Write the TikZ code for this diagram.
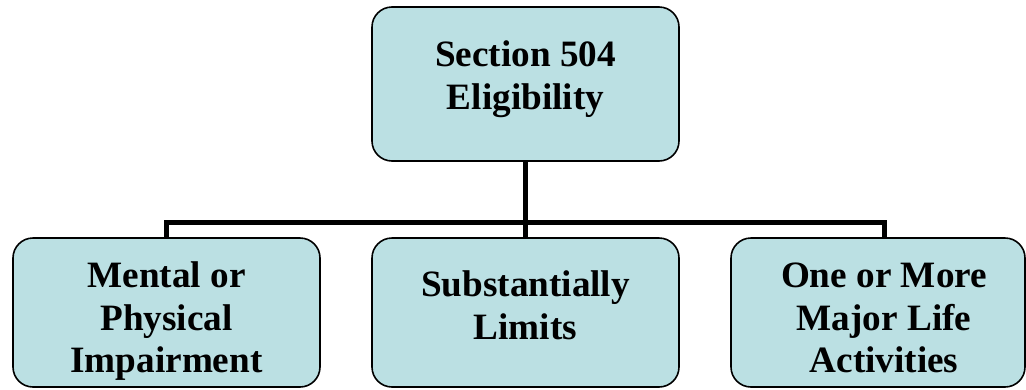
\documentclass[tikz,border=0pt]{standalone}
\usepackage{fontspec}
\setmainfont{Liberation Serif}
\usetikzlibrary{backgrounds}
\definecolor{boxfill}{RGB}{187,224,227}
\tikzset{
  box/.style={draw=black, line width=1.6pt, fill=boxfill, rounded corners=20pt, inner sep=0pt},
  lbl/.style={anchor=north, inner sep=0pt, align=center, font=\fontsize{37.2}{42.5}\selectfont\bfseries},
  conn/.style={line width=5pt, line join=miter, draw=black}
}
\begin{document}
\begin{tikzpicture}[x=1pt,y=-1pt]
\useasboundingbox (0,0) rectangle (1026,389);
% boxes
\node[box, minimum width=307pt, minimum height=154pt] (top) at (525.5,84) {};
\node[box, minimum width=307pt, minimum height=149pt] (left) at (166.5,312.5) {};
\node[box, minimum width=307pt, minimum height=149pt] (mid) at (525.5,312.5) {};
\node[box, minimum width=294pt, minimum height=149pt] (right) at (878,312.5) {};
% texts
\node[lbl] (toptxt) at (525.5,36.6) {\strut Section 504\\\strut Eligibility};
\node[lbl] (lefttxt) at (166.5,257.6) {\strut Mental or\\\strut Physical\\\strut Impairment};
\node[lbl] (midtxt) at (525.5,266.6) {\strut Substantially\\\strut Limits};
\node[lbl] (righttxt) at (884,257.6) {\strut One or More\\\strut Major Life\\\strut Activities};
% connectors
\coordinate (bus) at (525.5,222);
\coordinate (lj) at (166.5,222);
\coordinate (rj) at (884,222);
\begin{scope}[on background layer]
\draw[conn] (top.south) -- (bus);
\draw[conn] (left.north) -- (lj) -- (rj) -- (rj |- right.north);
\draw[conn] (bus) -- (mid.north);
\end{scope}
\end{tikzpicture}
\end{document}
